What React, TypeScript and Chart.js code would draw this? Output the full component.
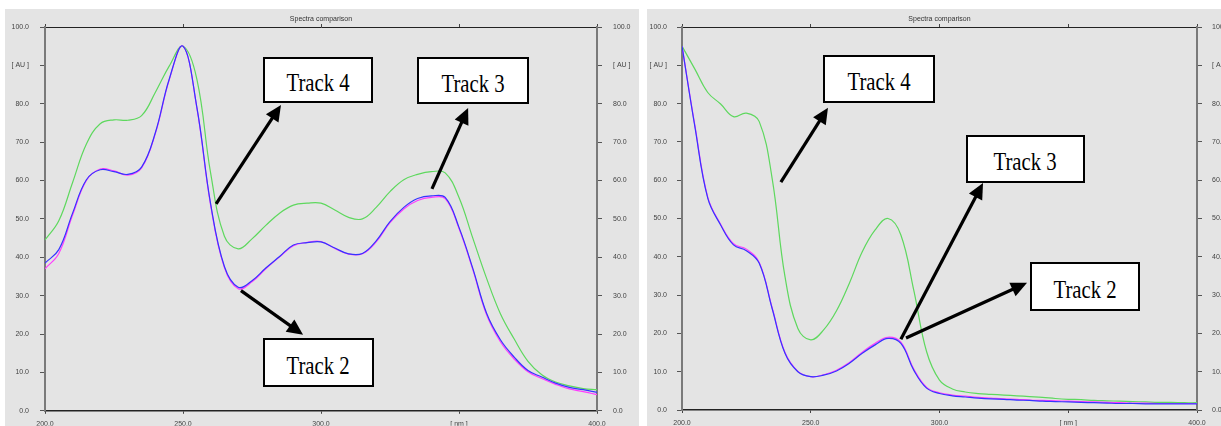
import React, { useEffect, useRef } from "react";
import { Chart, registerables } from "chart.js";

Chart.register(...registerables);

// ---------- data ----------
const wavelengthNm = [
  200, 205, 210, 215, 220, 225, 230, 235, 240, 245, 250, 255, 260, 265, 270, 275, 280, 285, 290, 295,
  300, 305, 310, 315, 320, 325, 330, 335, 340, 345, 350, 355, 360, 365, 370, 375, 380, 385, 390, 395, 400,
];

// left panel
const leftTrack4 = [
  44.5, 49.5, 59.5, 69.5, 74.8, 75.8, 75.7, 76.9, 83.0, 89.8, 95.0, 86.5, 62.0, 45.5, 42.2, 44.8, 48.3, 51.5, 53.6, 54.1,
  54.1, 52.3, 50.4, 50.0, 53.0, 57.1, 60.2, 61.6, 62.3, 62.0, 55.6, 45.0, 34.5, 25.3, 18.7, 12.9, 9.4, 7.5, 6.5, 5.8, 5.5,
];
const leftTrack3 = [
  38.5, 42.0, 51.5, 60.2, 62.8, 62.3, 61.6, 63.5, 72.5, 86.4, 95.0, 79.2, 54.0, 37.6, 32.2, 33.9, 37.2, 40.2, 43.2, 43.8,
  44.0, 42.4, 40.9, 41.0, 44.3, 49.3, 53.0, 55.3, 56.0, 55.6, 47.8, 37.1, 25.4, 18.5, 14.0, 10.5, 8.8, 7.2, 6.1, 5.5, 4.8,
];
const leftTrack2 = [
  37.0, 41.0, 51.0, 60.0, 63.0, 62.5, 61.4, 63.3, 72.3, 86.2, 95.0, 79.0, 53.6, 37.3, 31.8, 33.6, 37.0, 40.1, 43.0, 43.9,
  44.1, 42.3, 40.8, 40.9, 44.0, 49.0, 52.6, 54.8, 55.6, 55.3, 47.5, 36.8, 25.0, 18.0, 13.5, 10.2, 8.4, 6.9, 5.7, 5.0, 4.2,
];

// right panel
const rightTrack4 = [
  95.0, 89.0, 82.9, 79.9, 76.6, 77.5, 75.3, 60.5, 34.8, 21.3, 18.3, 20.9, 25.9, 33.1, 41.3, 47.0, 50.0, 45.7, 31.3, 15.2,
  7.8, 5.5, 4.7, 4.3, 4.1, 3.9, 3.7, 3.5, 3.3, 3.0, 2.8, 2.7, 2.5, 2.4, 2.3, 2.2, 2.1, 2.0, 2.0, 1.9, 1.9,
];
const rightTrack3 = [
  95.0, 74.0, 55.3, 48.3, 43.1, 41.6, 38.3, 26.5, 14.8, 10.0, 8.7, 9.1, 10.2, 12.2, 14.8, 17.0, 18.7, 17.4, 10.4, 5.7,
  4.3, 3.7, 3.4, 3.1, 2.9, 2.8, 2.6, 2.5, 2.3, 2.2, 2.1, 2.0, 1.9, 1.8, 1.7, 1.7, 1.6, 1.6, 1.6, 1.6, 1.6,
];
const rightTrack2 = [
  95.0, 74.3, 55.6, 48.5, 43.4, 42.0, 38.5, 26.7, 15.0, 10.1, 8.7, 9.2, 10.4, 12.4, 15.1, 17.4, 19.0, 17.7, 10.7, 5.9,
  4.5, 3.9, 3.6, 3.3, 3.1, 2.9, 2.8, 2.6, 2.5, 2.4, 2.3, 2.2, 2.1, 2.0, 1.9, 1.8, 1.8, 1.7, 1.7, 1.7, 1.7,
];

// axis tick labels
const xTickValues = [200, 250, 300, 350, 400];
const xTickLabels = ["200.0", "250.0", "300.0", "[ nm ]", "400.0"];
const yTickValues = [0, 10, 20, 30, 40, 50, 60, 70, 80, 90, 100];
const yTickLabels = ["0.0", "10.0", "20.0", "30.0", "40.0", "50.0", "60.0", "70.0", "80.0", "[ AU ]", "100.0"];
const chartTitle = "Spectra comparison";

// callout arrows, in data units [nm, AU]: tail on curve, head at label
const leftArrowTails = [[262.0, 53.9], [340.2, 57.8], [271.0, 31.3]];
const leftArrowHeads = [[285.5, 79.7], [353.3, 78.9], [293.5, 19.8]];
const rightArrowTails = [[238.4, 59.5], [285.0, 18.5], [287.0, 18.8]];
const rightArrowHeads = [[256.7, 78.9], [316.9, 59.3], [334.0, 33.2]];

// ---------- styling ----------
const COL_T4 = "#5ed85e";
const COL_T3 = "#3535ff";
const COL_T2 = "#ff3cff";
const PANEL_BG = "#e4e4e4";
const tickFont = { family: "'Liberation Sans', Arial, sans-serif", size: 7 };

function labelFor(values: number[], labels: string[]) {
  return (v: any) => {
    const i = values.indexOf(Number(v));
    return i >= 0 ? labels[i] : "";
  };
}

function makeArrowPlugin(tails: number[][], heads: number[][]) {
  return {
    id: "calloutArrows",
    afterDatasetsDraw(chart: any) {
      const { ctx } = chart;
      const xs = chart.scales.x;
      const ys = chart.scales.y;
      ctx.save();
      ctx.strokeStyle = "#000";
      ctx.fillStyle = "#000";
      ctx.lineWidth = 3.2;
      for (let i = 0; i < tails.length; i++) {
        const x1 = xs.getPixelForValue(tails[i][0]);
        const y1 = ys.getPixelForValue(tails[i][1]);
        const x2 = xs.getPixelForValue(heads[i][0]);
        const y2 = ys.getPixelForValue(heads[i][1]);
        const a = Math.atan2(y2 - y1, x2 - x1);
        const c = Math.cos(a);
        const s = Math.sin(a);
        const hl = 16;
        const hw = 7.5;
        const bx = x2 - hl * c;
        const by = y2 - hl * s;
        ctx.beginPath();
        ctx.moveTo(x1, y1);
        ctx.lineTo(bx + c, by + s);
        ctx.stroke();
        ctx.beginPath();
        ctx.moveTo(x2, y2);
        ctx.lineTo(bx + hw * s, by - hw * c);
        ctx.lineTo(bx - hw * s, by + hw * c);
        ctx.closePath();
        ctx.fill();
      }
      ctx.restore();
    },
  };
}

type PanelProps = {
  left: number;
  width: number;
  height: number;
  t4: number[];
  t3: number[];
  t2: number[];
  yLeftW: number;
  yRightW: number;
  bottomH: number;
  labelPad: number;
  tails: number[][];
  heads: number[][];
};

function SpectraPanel(p: PanelProps) {
  const ref = useRef<HTMLCanvasElement | null>(null);
  useEffect(() => {
    if (!ref.current) return;
    const pts = (arr: number[]) => wavelengthNm.map((x, i) => ({ x, y: arr[i] }));
    const line = (label: string, data: number[], color: string) => ({
      label,
      data: pts(data),
      borderColor: color,
      backgroundColor: color,
      borderWidth: 1.2,
      pointRadius: 0,
      fill: false,
      tension: 0.4,
    });
    const xCb = labelFor(xTickValues, xTickLabels);
    const yCb = labelFor(yTickValues, yTickLabels);
    const chart = new Chart(ref.current, {
      type: "line",
      data: {
        datasets: [line("Track 3", p.t3, COL_T3), line("Track 2", p.t2, COL_T2), line("Track 4", p.t4, COL_T4)],
      },
      options: {
        animation: false,
        responsive: false,
        events: [],
        layout: { padding: 0, autoPadding: false },
        plugins: { legend: { display: false }, tooltip: { enabled: false }, title: { display: false } },
        scales: {
          x: {
            type: "linear",
            position: "bottom",
            min: 200,
            max: 400,
            afterFit: (s: any) => {
              s.height = p.bottomH;
            },
            ticks: { stepSize: 50, autoSkip: false, maxRotation: 0, font: tickFont, color: "#444", padding: 6, callback: xCb },
            grid: { display: true, drawOnChartArea: false, drawTicks: true, tickLength: 3, color: "#444" },
            border: { display: true, color: "#222", width: 1.5 },
          },
          x2: {
            type: "linear",
            position: "top",
            min: 200,
            max: 400,
            afterFit: (s: any) => {
              s.height = 18;
            },
            ticks: { stepSize: 50, display: false },
            grid: { display: true, drawOnChartArea: false, drawTicks: true, tickLength: 3, color: "#444" },
            border: { display: true, color: "#222", width: 1 },
            title: { display: true, text: chartTitle, font: tickFont, color: "#333", padding: { top: 5.5, bottom: 0 } },
          },
          y: {
            type: "linear",
            position: "left",
            min: 0,
            max: 100,
            afterFit: (s: any) => {
              s.width = p.yLeftW;
            },
            ticks: { stepSize: 10, font: tickFont, color: "#444", padding: p.labelPad, callback: yCb },
            grid: { display: true, drawOnChartArea: false, drawTicks: true, tickLength: 5, color: "#555" },
            border: { display: true, color: "#7a7a7a", width: 2 },
          },
          y2: {
            type: "linear",
            position: "right",
            min: 0,
            max: 100,
            afterFit: (s: any) => {
              s.width = p.yRightW;
            },
            ticks: { stepSize: 10, font: tickFont, color: "#444", padding: p.labelPad, callback: yCb },
            grid: { display: true, drawOnChartArea: false, drawTicks: true, tickLength: 5, color: "#555" },
            border: { display: true, color: "#7a7a7a", width: 2 },
          },
        },
      } as any,
      plugins: [makeArrowPlugin(p.tails, p.heads)],
    });
    return () => chart.destroy();
  }, []);
  return (
    <canvas
      ref={ref}
      width={p.width}
      height={p.height}
      style={{ position: "absolute", left: p.left, top: 9, width: p.width, height: p.height, background: PANEL_BG }}
    />
  );
}

function Callout({ x, y, w, h, text }: { x: number; y: number; w: number; h: number; text: string }) {
  return (
    <div
      style={{
        position: "absolute",
        left: x,
        top: y,
        width: w,
        height: h,
        boxSizing: "border-box",
        border: "2px solid #000",
        background: "#fff",
        display: "flex",
        alignItems: "center",
        justifyContent: "center",
        paddingTop: 6,
        fontFamily: "'Liberation Serif', 'Times New Roman', serif",
        fontSize: 25,
        color: "#000",
        whiteSpace: "nowrap",
      }}
    >
      <span style={{ display: "inline-block", transform: "scaleX(0.83)" }}>{text}</span>
    </div>
  );
}

export default function App() {
  return (
    <div style={{ position: "absolute", left: 0, top: 0, width: 1221, height: 426, background: "#fff", overflow: "hidden" }}>
      <SpectraPanel
        left={5}
        width={634}
        height={417}
        t4={leftTrack4}
        t3={leftTrack3}
        t2={leftTrack2}
        yLeftW={40}
        yRightW={42}
        bottomH={15}
        labelPad={11}
        tails={leftArrowTails}
        heads={leftArrowHeads}
      />
      <SpectraPanel
        left={647}
        width={574}
        height={417}
        t4={rightTrack4}
        t3={rightTrack3}
        t2={rightTrack2}
        yLeftW={35}
        yRightW={24}
        bottomH={16}
        labelPad={10}
        tails={rightArrowTails}
        heads={rightArrowHeads}
      />
      <Callout x={263} y={57} w={110} h={46} text="Track 4" />
      <Callout x={417} y={57} w={112} h={47} text="Track 3" />
      <Callout x={263} y={338} w={111} h={49} text="Track 2" />
      <Callout x={823} y={55} w={112} h={48} text="Track 4" />
      <Callout x={966} y={135} w={119} h={48} text="Track 3" />
      <Callout x={1030} y={262} w={110} h={49} text="Track 2" />
    </div>
  );
}
